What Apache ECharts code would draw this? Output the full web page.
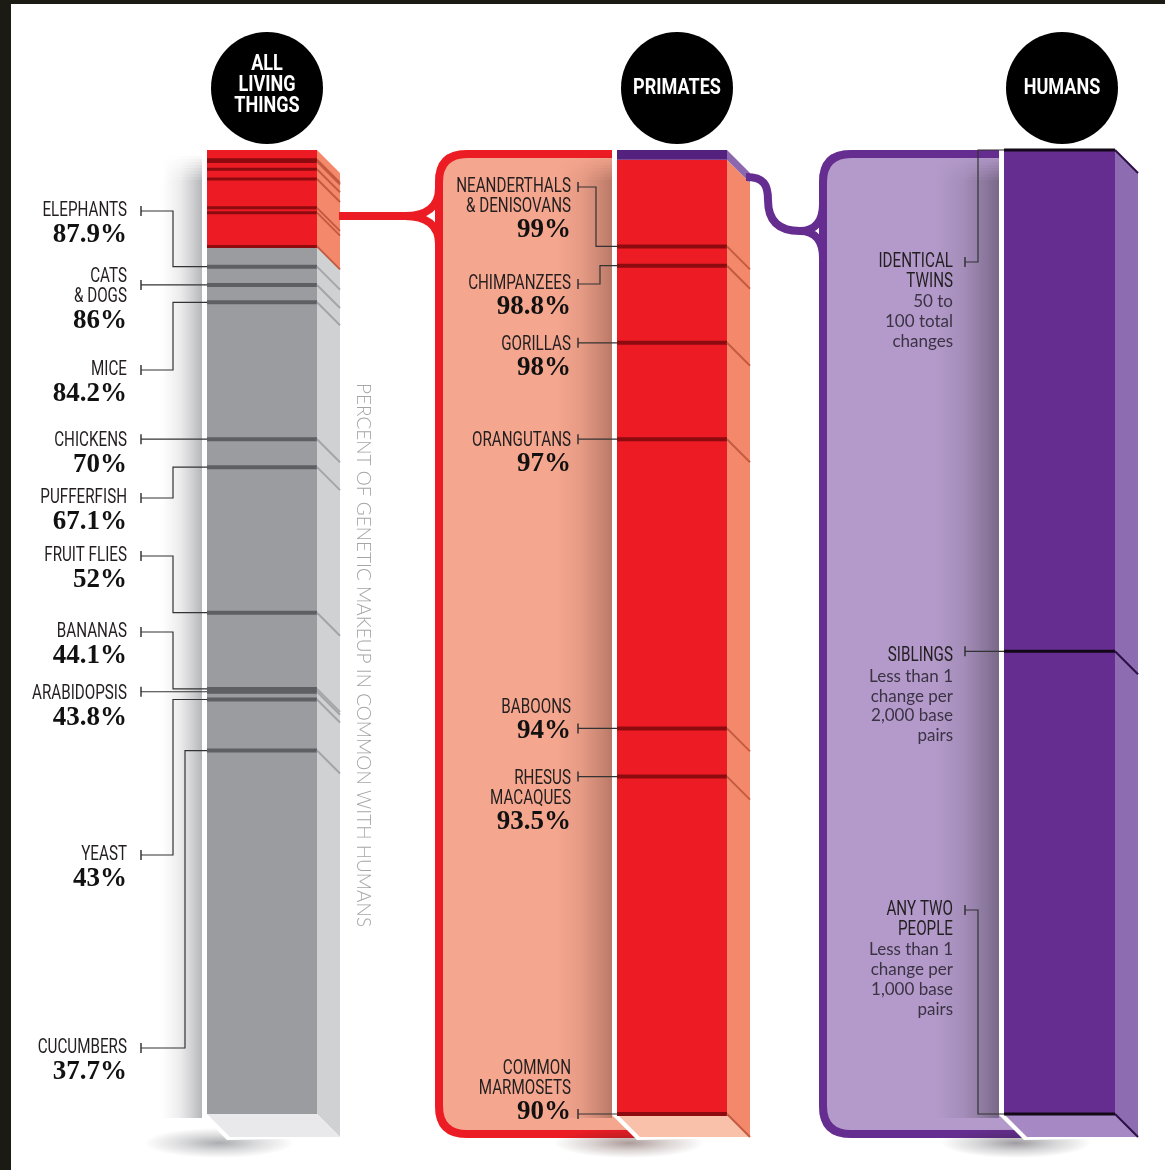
<!DOCTYPE html>
<html><head><meta charset="utf-8">
<script src="https://cdn.jsdelivr.net/npm/echarts@6/dist/echarts.min.js"></script>
<style>html,body{margin:0;padding:0;background:#fff}#c{width:1165px;height:1170px}</style>
</head><body><div id="c"></div>
<script>
// ---------------- data ----------------
const columnTitles = ['ALL\nLIVING\nTHINGS', 'PRIMATES', 'HUMANS'];
const axisLabel = 'PERCENT OF GENETIC MAKEUP IN COMMON WITH HUMANS';

const allRange = [0, 100];
const primateRange = [90, 100];
const humanRange = [99.9, 100];

const allNames = ['ELEPHANTS', 'CATS\n& DOGS', 'MICE', 'CHICKENS', 'PUFFERFISH', 'FRUIT FLIES', 'BANANAS', 'ARABIDOPSIS', 'YEAST', 'CUCUMBERS'];
const allValues = [87.9, 86, 84.2, 70, 67.1, 52, 44.1, 43.8, 43, 37.7];
const allPcts = ['87.9%', '86%', '84.2%', '70%', '67.1%', '52%', '44.1%', '43.8%', '43%', '37.7%'];

const primateNames = ['NEANDERTHALS\n& DENISOVANS', 'CHIMPANZEES', 'GORILLAS', 'ORANGUTANS', 'BABOONS', 'RHESUS\nMACAQUES', 'COMMON\nMARMOSETS'];
const primateValues = [99, 98.8, 98, 97, 94, 93.5, 90];
const primatePcts = ['99%', '98.8%', '98%', '97%', '94%', '93.5%', '90%'];

const humanNames = ['IDENTICAL\nTWINS', 'SIBLINGS', 'ANY TWO\nPEOPLE'];
const humanValues = [100, 99.948, 99.9];
const humanNotes = ['50 to\n100 total\nchanges', 'Less than 1\nchange per\n2,000 base\npairs', 'Less than 1\nchange per\n1,000 base\npairs'];

// ---------------- layout (pixels, not data) ----------------
const leftTickY  = [211, null, 370, null, 498, 556, 632, null, 855, 1048];
const leftElbowX = [173, null, 173, null, 173, 173, 173, null, 173, 185];
const leftTextY  = [211, 277, 370, 441, 498, 556, 632, 694, 855, 1048];

const midTickY  = [187, 284, null, null, null, null, null];
const midElbowX = [596, 600, null, null, null, null, null];
const midTextY  = [187, 284, 345, 441, 708, 779, 1069];

const humTickY  = [262, null, 910];
const humElbowX = [978, null, 978];
const humTextY  = [262, 656, 910];

const D = 23; // depth of the extruded side
const NAME_FONT = '400 20px Roboto';
const NAME_SCALE = 0.76;
const PCT_FONT = 'bold 27px "Liberation Serif"';
const NOTE_FONT = '400 17px Lato';

const pal = {
  gray:   {front:'#9b9ca0', side:'#d0d1d3', bottom:'#e9e9eb', line:'#5e5f63', sideLine:'#a3a4a7'},
  red:    {front:'#ed1c24', side:'#f3896a', bottom:'#f9c1a9', line:'#8d0a0f', sideLine:'#c45a42'},
  band:   {front:'#55217f', side:'#8a67ae', bottom:'#a689c4', line:'#1a0a26', sideLine:'#2c0f44'},
  purple: {front:'#662d91', side:'#8e6cb2', bottom:'#a689c4', line:'#120818', sideLine:'#2c0f44'}
};

const columns = [
  {grid: 0, range: allRange, zones: [[allRange[0], primateRange[0], 'gray'], [primateRange[0], allRange[1], 'red']], shade: {w: 40, a: 0.4, rgb: '70,72,80'}},
  {grid: 1, range: primateRange, zones: [[primateRange[0], humanRange[0], 'red'], [humanRange[0], primateRange[1], 'band']], shade: {w: 56, a: 0.34, rgb: '70,35,30'}},
  {grid: 2, range: humanRange, zones: [[humanRange[0], humanRange[1], 'purple']], shade: {w: 64, a: 0.42, rgb: '40,35,45'}}
];

function hGrad(rgb, a) {
  return {type: 'linear', x: 0, y: 0, x2: 1, y2: 0, colorStops: [
    {offset: 0, color: 'rgba(' + rgb + ',0)'},
    {offset: 0.45, color: 'rgba(' + rgb + ',' + (a * 0.25).toFixed(3) + ')'},
    {offset: 0.8, color: 'rgba(' + rgb + ',' + (a * 0.7).toFixed(3) + ')'},
    {offset: 1, color: 'rgba(' + rgb + ',' + a + ')'}]};
}

function baseSeries(col) {
  const s = col.shade;
  return {
    type: 'custom', xAxisIndex: col.grid, yAxisIndex: col.grid, z: 1, silent: true,
    data: [[col.range[0], col.range[1]]],
    renderItem(params, api) {
      const a = api.coord([0, api.value(1)]), b = api.coord([1, api.value(0)]);
      const L = a[0], T = a[1], R = b[0], B = b[1];
      const kids = [];
      const x0 = L - 5 - s.w;
      // soft top fade of the side shadow
      for (let k = 0; k < 8; k++) {
        kids.push({type: 'rect', shape: {x: x0, y: T + 6 + k * 3, width: s.w, height: 3},
          style: {fill: hGrad(s.rgb, s.a), opacity: (k + 1) / 9}});
      }
      kids.push({type: 'rect', shape: {x: x0, y: T + 30, width: s.w, height: B - T - 30 + 4},
        style: {fill: hGrad(s.rgb, s.a)}});
      // elongated soft shadow below the bottom face
      kids.push({type: 'rect', x: L + 12, y: B + D + 6, scaleY: 0.2,
        shape: {x: -75, y: -75, width: 150, height: 150},
        style: {fill: {type: 'radial', x: 0.5, y: 0.5, r: 0.5, colorStops: [
          {offset: 0, color: 'rgba(' + s.rgb + ',0.45)'}, {offset: 0.5, color: 'rgba(' + s.rgb + ',0.2)'}, {offset: 1, color: 'rgba(' + s.rgb + ',0)'}]}}});
      // white rim round the column
      kids.push({type: 'polygon',
        shape: {points: [[L - 5, T - 2], [R, T - 2], [R + D + 1, T + D - 1], [R + D + 1, B + D + 1], [L + D - 3, B + D + 3], [L - 5, B + 1]]},
        style: {fill: '#fff'}});
      return {type: 'group', children: kids};
    }
  };
}

function bodySeries(col) {
  return {
    type: 'custom', xAxisIndex: col.grid, yAxisIndex: col.grid, z: 2, silent: true,
    data: col.zones.map(z => [z[0], z[1]]),
    renderItem(params, api) {
      const p = pal[col.zones[params.dataIndex][2]];
      const from = api.value(0);
      const a = api.coord([0, api.value(1)]), b = api.coord([1, from]);
      const L = a[0], T = a[1], R = b[0], B = b[1];
      const kids = [
        {type: 'rect', shape: {x: L, y: T, width: R - L, height: B - T}, style: {fill: p.front}},
        {type: 'polygon', shape: {points: [[R, T], [R + D, T + D], [R + D, B + D], [R, B]]}, style: {fill: p.side}}
      ];
      if (from === col.range[0]) {
        kids.push({type: 'polygon', shape: {points: [[L, B], [R, B], [R + D, B + D], [L + D, B + D]]}, style: {fill: p.bottom}});
      }
      return {type: 'group', children: kids};
    }
  };
}

function markerSeries(grid, values, key, width) {
  const p = pal[key];
  return {
    type: 'custom', xAxisIndex: grid, yAxisIndex: grid, z: 3, silent: true,
    data: values.map(v => [0, v]),
    renderItem(params, api) {
      const a = api.coord([0, api.value(1)]), b = api.coord([1, api.value(1)]);
      const y = a[1];
      return {type: 'group', children: [
        {type: 'line', shape: {x1: a[0], y1: y, x2: b[0], y2: y}, style: {stroke: p.line, lineWidth: width}},
        {type: 'line', shape: {x1: b[0], y1: y, x2: b[0] + D, y2: y + D}, style: {stroke: p.sideLine, lineWidth: 2}}
      ]};
    }
  };
}

function labelSeries(grid, values, names, pcts, notes, tickY, elbowX, textY, cfg) {
  return {
    type: 'custom', xAxisIndex: grid, yAxisIndex: grid, z: 5, silent: true,
    data: values.map(v => [0, v]),
    renderItem(params, api) {
      const i = params.dataIndex;
      const p = api.coord([0, api.value(1)]);
      const L = p[0], my = p[1];
      const ty = tickY[i] == null ? my : tickY[i];
      const kids = [];
      kids.push({type: 'line', shape: {x1: cfg.tickX, y1: ty - 5, x2: cfg.tickX, y2: ty + 5}, style: {stroke: '#2a2a2a', lineWidth: 1.4}});
      const pts = elbowX[i] == null ? [[cfg.tickX, my], [L, my]]
        : [[cfg.tickX, ty], [elbowX[i], ty], [elbowX[i], my], [L, my]];
      kids.push({type: 'polyline', shape: {points: pts}, style: {stroke: '#333', lineWidth: 1.2, fill: null}});
      const lines = names[i].split('\n');
      let yy = textY[i];
      lines.forEach((ln, k) => {
        yy = textY[i] + k * cfg.nameGap;
        kids.push({type: 'text', x: cfg.textRight, y: yy, scaleX: NAME_SCALE,
          style: {text: ln, font: NAME_FONT, fill: '#231f20', align: 'right', verticalAlign: 'middle'}});
      });
      if (pcts) {
        kids.push({type: 'text', x: cfg.textRight, y: yy + cfg.pctGap,
          style: {text: pcts[i], font: PCT_FONT, fill: '#111', align: 'right', verticalAlign: 'middle'}});
      }
      if (notes) {
        notes[i].split('\n').forEach((ln, k) => {
          kids.push({type: 'text', x: cfg.textRight, y: yy + cfg.noteStart + k * cfg.noteGap,
            style: {text: ln, font: NOTE_FONT, fill: '#3b3344', align: 'right', verticalAlign: 'middle'}});
        });
      }
      return {type: 'group', children: kids};
    }
  };
}

// decorative paths (panels, braces) drawn by a coordinate-free custom series
function pathSeries(z, paths) {
  return {
    type: 'custom', coordinateSystem: 'none', z: z, silent: true, data: [0],
    renderItem() {
      return {type: 'group', children: paths.map(p => ({type: 'path', shape: {pathData: p.d}, style: p.style}))};
    }
  };
}

const series = [];
series.push(pathSeries(0, [
  {d: 'M 616 150 L 467 150 Q 435 150 435 182 L 435 1106 Q 435 1138 467 1138 L 641 1138 L 616 1113 Z', style: {fill: '#f5a68e'}},
  {d: 'M 616 154 L 467 154 Q 439 154 439 182 L 439 1106 Q 439 1134 467 1134 L 645 1134', style: {fill: null, stroke: '#ec1c24', lineWidth: 8}},
  {d: 'M 1003 150 L 851 150 Q 819 150 819 182 L 819 1106 Q 819 1138 851 1138 L 1028 1138 L 1003 1113 Z', style: {fill: '#b39aca'}},
  {d: 'M 1003 154 L 851 154 Q 823 154 823 182 L 823 1106 Q 823 1134 851 1134 L 1030 1134', style: {fill: null, stroke: '#662d91', lineWidth: 8}}
]));
columns.forEach(c => series.push(baseSeries(c)));
columns.forEach(c => series.push(bodySeries(c)));
series.push(markerSeries(0, allValues, 'gray', 4));
series.push(markerSeries(0, primateValues, 'red', 3));
series.push(markerSeries(1, primateValues, 'red', 4));
series.push(markerSeries(2, humanValues, 'purple', 3));
series.push(pathSeries(8, [
  {d: 'M 339 216 L 405 216 C 426 216 439 207 439 188 M 405 216 C 426 216 439 225 439 244', style: {fill: null, stroke: '#ec1c24', lineWidth: 8}},
  {d: 'M 746 177 C 764 177 768 185 768 200 C 768 222 780 231 800 231 C 815 231 823 221 823 204 M 800 231 C 815 231 823 241 823 258', style: {fill: null, stroke: '#662d91', lineWidth: 8}}
]));
series.push(labelSeries(0, allValues, allNames, allPcts, null, leftTickY, leftElbowX, leftTextY,
  {tickX: 141, textRight: 127, nameGap: 20, pctGap: 24}));
series.push(labelSeries(1, primateValues, primateNames, primatePcts, null, midTickY, midElbowX, midTextY,
  {tickX: 578, textRight: 571, nameGap: 20, pctGap: 23}));
series.push(labelSeries(2, humanValues, humanNames, null, humanNotes, humTickY, humElbowX, humTextY,
  {tickX: 965, textRight: 953, nameGap: 19.5, noteStart: 20.5, noteGap: 19.7}));

// ---------------- decorations ----------------
const graphics = [];
const heads = [[267, 88], [677, 88], [1062, 88]];
heads.forEach((h, i) => {
  graphics.push({type: 'circle', z: 10, shape: {cx: h[0], cy: h[1], r: 56}, style: {fill: '#000'}});
  const lns = columnTitles[i].split('\n');
  const cy = lns.length > 1 ? h[1] - 3 : h[1];
  lns.forEach((ln, k) => {
    graphics.push({type: 'text', z: 11, x: h[0], y: cy + (k - (lns.length - 1) / 2) * 21, scaleX: 0.82,
      style: {text: ln, font: 'bold 22px Roboto', fill: '#fff', align: 'center', verticalAlign: 'middle'}});
  });
});
graphics.push({type: 'text', z: 10, x: 363, y: 655, rotation: -Math.PI / 2,
  style: {text: axisLabel, font: '300 19px Lato', fill: '#a4a5a8', align: 'center', verticalAlign: 'middle'}});
graphics.push({type: 'rect', z: 20, shape: {x: 0, y: 0, width: 1165, height: 4}, style: {fill: '#1b1b14'}});
graphics.push({type: 'rect', z: 20, shape: {x: 0, y: 0, width: 11, height: 1170}, style: {fill: '#1b1b14'}});

const option = {
  animation: false,
  backgroundColor: '#fff',
  grid: [
    {left: 207, top: 150, width: 110, height: 964},
    {left: 617, top: 150, width: 110, height: 964},
    {left: 1004, top: 150, width: 111, height: 964}
  ],
  xAxis: [0, 1, 2].map(g => ({gridIndex: g, type: 'value', min: 0, max: 1, show: false})),
  yAxis: columns.map(c => ({gridIndex: c.grid, type: 'value', min: c.range[0], max: c.range[1], show: false})),
  graphic: {elements: graphics},
  series
};
const chart = echarts.init(document.getElementById('c'), null, {width: 1165, height: 1170});
chart.setOption(option);
</script>
</body></html>
